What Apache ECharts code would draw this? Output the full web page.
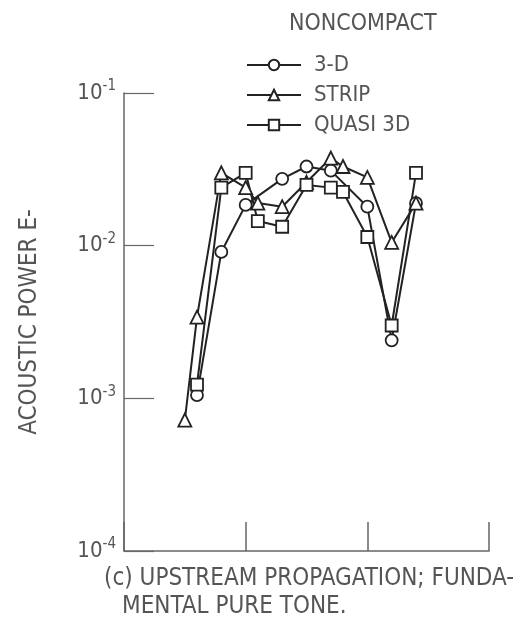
<!DOCTYPE html>
<html>
<head>
<meta charset="utf-8">
<script src="https://cdn.jsdelivr.net/npm/echarts@6/dist/echarts.min.js"></script>
<style>
  html, body { margin: 0; padding: 0; background: #fff; }
  #chart { width: 527px; height: 617px; }
</style>
</head>
<body>
<div id="chart"></div>
<script>
// x positions are in axis units (ticks at 0,1,2,3, unlabeled)
const seriesNames = ['3-D', 'STRIP', 'QUASI 3D']
const x3d = [0.6, 0.8, 1.0, 1.3, 1.5, 1.7, 2.0, 2.2, 2.4]
const y3d = [0.00105, 0.0091, 0.0185, 0.0274, 0.033, 0.031, 0.018, 0.0024, 0.019]
const xStrip = [0.5, 0.6, 0.8, 1.0, 1.1, 1.3, 1.5, 1.7, 1.8, 2.0, 2.2, 2.4]
const yStrip = [0.00072, 0.0034, 0.030, 0.024, 0.019, 0.018, 0.026, 0.0375, 0.033, 0.028, 0.0105, 0.019]
const xQuasi = [0.6, 0.8, 1.0, 1.1, 1.3, 1.5, 1.7, 1.8, 2.0, 2.2, 2.4]
const yQuasi = [0.00123, 0.024, 0.030, 0.0145, 0.0133, 0.025, 0.024, 0.0225, 0.0114, 0.003, 0.030]

const FONT = '"DejaVu Sans Condensed", "Liberation Sans Narrow", "DejaVu Sans", sans-serif'
const INK = '#222'
const GREY = '#555'

function pairs (xs, ys) {
  return xs.map((x, i) => [x, ys[i]])
}

function makeSeries (name, symbol, xs, ys) {
  return {
    name: name,
    type: 'line',
    data: pairs(xs, ys),
    symbol: symbol,
    symbolSize: symbol === 'triangle' ? 13 : 12,
    lineStyle: { color: INK, width: 2 },
    itemStyle: { color: '#fff', borderColor: INK, borderWidth: 1.8 },
    emphasis: { disabled: true },
    z: 3
  }
}

const myChart = echarts.init(document.getElementById('chart'))
const option = {
  backgroundColor: '#fff',
  animation: false,
  title: {
    text: 'NONCOMPACT',
    left: 284,
    top: 8,
    textStyle: { fontFamily: FONT, fontWeight: 'normal', fontSize: 23, color: GREY }
  },
  legend: {
    orient: 'vertical',
    left: 241,
    top: 49,
    itemWidth: 54,
    itemHeight: 13,
    itemGap: 8,
    data: seriesNames,
    textStyle: { fontFamily: FONT, fontSize: 22, color: GREY, padding: [0, 0, 0, 8] }
  },
  grid: { left: 124, right: 38, top: 93, bottom: 66 },
  xAxis: {
    type: 'value',
    min: 0,
    max: 3,
    interval: 1,
    axisLine: { lineStyle: { color: '#666', width: 1.5 } },
    axisTick: { inside: true, length: 29, lineStyle: { color: '#666', width: 1.5 } },
    axisLabel: { show: false },
    splitLine: { show: false }
  },
  yAxis: {
    type: 'log',
    logBase: 10,
    min: 0.0001,
    max: 0.1,
    name: 'ACOUSTIC POWER E-',
    nameLocation: 'middle',
    nameRotate: 90,
    nameGap: 82,
    nameTextStyle: { fontFamily: FONT, fontSize: 24, color: GREY },
    axisLine: { show: true, lineStyle: { color: '#666', width: 1.5 } },
    axisTick: { inside: true, length: 30, lineStyle: { color: '#666', width: 1.2 } },
    axisLabel: {
      margin: 8,
      formatter: function (v) {
        const e = Math.round(Math.log10(v))
        return '{b|10}{s|' + e + '}'
      },
      rich: {
        b: { fontFamily: FONT, fontSize: 22, color: GREY },
        s: { fontFamily: FONT, fontSize: 15, color: GREY, padding: [0, 0, 13, 0] }
      }
    },
    splitLine: { show: false },
    minorTick: { show: false }
  },
  graphic: [
    {
      type: 'text',
      left: 104,
      top: 567,
      style: { text: '(c) UPSTREAM PROPAGATION; FUNDA-', font: '24px ' + FONT, fill: GREY }
    },
    {
      type: 'text',
      left: 122,
      top: 595,
      style: { text: 'MENTAL PURE TONE.', font: '24px ' + FONT, fill: GREY }
    }
  ],
  series: [
    makeSeries('3-D', 'circle', x3d, y3d),
    makeSeries('STRIP', 'triangle', xStrip, yStrip),
    makeSeries('QUASI 3D', 'rect', xQuasi, yQuasi)
  ]
}
myChart.setOption(option)
</script>
</body>
</html>
